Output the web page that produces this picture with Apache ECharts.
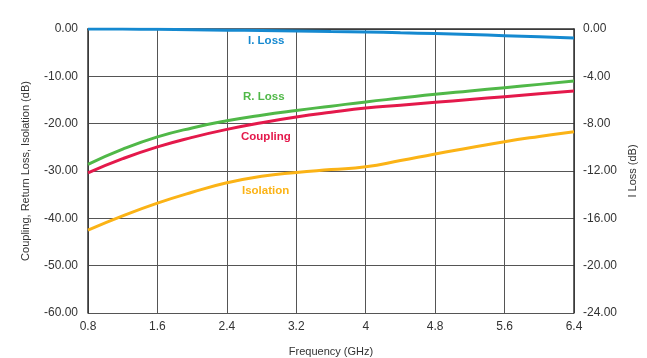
<!DOCTYPE html>
<html><head><meta charset="utf-8">
<script src="https://cdn.jsdelivr.net/npm/echarts@6/dist/echarts.min.js"></script>
<style>html,body{margin:0;padding:0;background:#fff}#c{width:647px;height:358px}</style>
</head><body><div id="c"></div>
<script>
const freq = [0.8, 1.2, 1.6, 2.0, 2.4, 2.8, 3.2, 3.6, 4.0, 4.4, 4.8, 5.2, 5.6, 6.0, 6.4];
const coupling = [-30.4, -27.4, -24.9, -22.9, -21.2, -19.8, -18.6, -17.6, -16.7, -16.1, -15.5, -14.9, -14.3, -13.7, -13.1];
const returnLoss = [-28.6, -25.4, -22.8, -20.9, -19.4, -18.2, -17.2, -16.3, -15.4, -14.6, -13.8, -13.1, -12.4, -11.7, -11.0];
const isolation = [-42.5, -39.5, -36.8, -34.5, -32.5, -31.1, -30.3, -29.7, -29.1, -27.8, -26.4, -25.1, -23.8, -22.7, -21.7];
const insertionLoss = [0.0, -0.01, -0.03, -0.06, -0.1, -0.13, -0.17, -0.21, -0.25, -0.32, -0.39, -0.47, -0.56, -0.66, -0.76];
const leftTicks = [0, -10, -20, -30, -40, -50, -60];
const rightTicks = [0, -4, -8, -12, -16, -20, -24];
const xTicks = [0.8, 1.6, 2.4, 3.2, 4, 4.8, 5.6, 6.4];

const pair = a => freq.map((f, i) => [f, a[i]]);
const font = '"Liberation Sans", Arial, sans-serif';
const lbl = {color: '#333', fontSize: 12, fontFamily: font};
const nameStyle = {color: '#333', fontSize: 11, fontFamily: font};
const gridLine = {show: true, lineStyle: {color: '#555', width: 1}};
const chart = echarts.init(document.getElementById('c'), null, {renderer: 'canvas'});
chart.setOption({
  animation: false,
  grid: {left: 88, right: 73, top: 29, bottom: 45, containLabel: false, outerBoundsMode: 'none'},
  xAxis: {
    type: 'value', min: xTicks[0], max: xTicks[xTicks.length - 1], interval: 0.8,
    name: 'Frequency (GHz)', nameLocation: 'middle', nameGap: 33,
    nameTextStyle: nameStyle,
    axisLine: {lineStyle: {color: '#333', width: 1.5}},
    axisTick: {show: false},
    splitLine: gridLine,
    axisLabel: Object.assign({margin: 8, formatter: v => String(parseFloat(v.toFixed(1)))}, lbl)
  },
  yAxis: [{
    type: 'value', min: leftTicks[leftTicks.length - 1], max: leftTicks[0], interval: 10,
    name: 'Coupling, Return Loss, Isolation (dB)', nameLocation: 'middle', nameGap: 57, nameRotate: 90,
    nameTextStyle: nameStyle,
    axisLine: {show: true, lineStyle: {color: '#333', width: 1.5}},
    axisTick: {show: false},
    splitLine: gridLine,
    axisLabel: Object.assign({margin: 10, formatter: v => v.toFixed(2)}, lbl)
  }, {
    type: 'value', position: 'right', min: rightTicks[rightTicks.length - 1], max: rightTicks[0], interval: 4,
    name: 'I Loss (dB)', nameLocation: 'middle', nameGap: 53, nameRotate: 90,
    nameTextStyle: nameStyle,
    axisLine: {show: true, lineStyle: {color: '#333', width: 1.5}},
    axisTick: {show: false},
    splitLine: {show: false},
    axisLabel: Object.assign({margin: 9, formatter: v => v.toFixed(2)}, lbl)
  }],
  series: [
    {name: 'Isolation', type: 'line', smooth: true, showSymbol: false, data: pair(isolation), lineStyle: {color: '#fbb316', width: 3}},
    {name: 'Coupling', type: 'line', smooth: true, showSymbol: false, data: pair(coupling), lineStyle: {color: '#e4194b', width: 3}},
    {name: 'R. Loss', type: 'line', smooth: true, showSymbol: false, data: pair(returnLoss), lineStyle: {color: '#50b848', width: 3}},
    {name: 'I. Loss', type: 'line', yAxisIndex: 1, smooth: true, showSymbol: false, data: pair(insertionLoss), lineStyle: {color: '#1589d0', width: 3}}
  ],
  graphic: [
    {type: 'text', left: 248, top: 35, style: {text: 'I. Loss', fill: '#1589d0', font: 'bold 11.5px ' + font}},
    {type: 'text', left: 243, top: 91, style: {text: 'R. Loss', fill: '#50b848', font: 'bold 11.5px ' + font}},
    {type: 'text', left: 241, top: 131, style: {text: 'Coupling', fill: '#e4194b', font: 'bold 11.5px ' + font}},
    {type: 'text', left: 242, top: 185, style: {text: 'Isolation', fill: '#fbb316', font: 'bold 11.5px ' + font}}
  ]
});
</script></body></html>
